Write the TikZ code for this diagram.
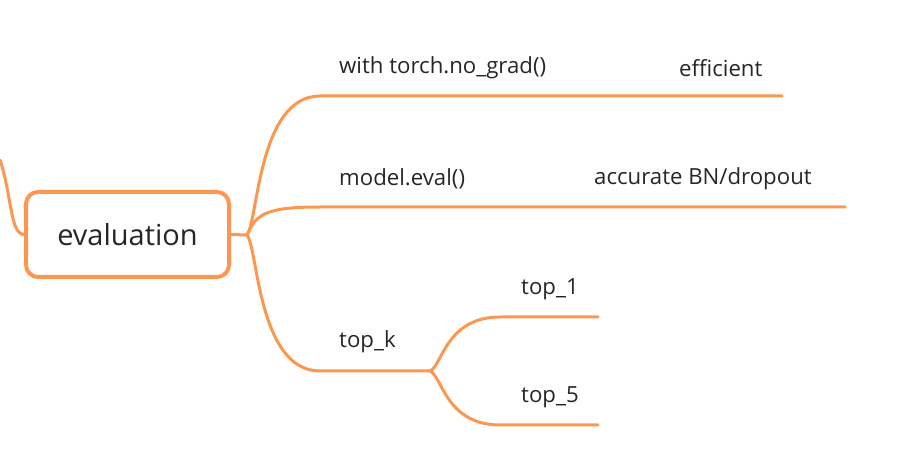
\documentclass[tikz,border=0pt]{standalone}
\usepackage{fontspec}
\setmainfont{Open Sans}
\usetikzlibrary{positioning}
\definecolor{branch}{RGB}{253,151,80}
\definecolor{ink}{RGB}{38,38,38}
\tikzset{
	root/.style={draw=branch, line width=4pt, rounded corners=12pt, minimum width=203pt, minimum height=85pt, text=ink, font=\fontsize{29}{34}\selectfont},
	leaf/.style={text=ink, font=\fontsize{22.2}{26}\selectfont, inner sep=0pt},
	link/.style={draw=branch, line width=3pt, line cap=round},
}

\begin{document}
\begin{tikzpicture}[x=1pt, y=-1pt]
	\useasboundingbox (0,0) rectangle (919,462);
	%% central topic
	\node[root] (eval) at (127.5,234.5) {evaluation};
	\coordinate (up) at (0,160);
	\coordinate (j0) at (247,235);
	% line ends of the branches
	\coordinate (b1) at (572,96);
	\coordinate (b1e) at (782,96);
	\coordinate (b2) at (490,207);
	\coordinate (b2e) at (845,207);
	\coordinate (b3) at (430,371);
	\coordinate (c1) at (598,317);
	\coordinate (c2) at (598,425);
	% labels
	\node[leaf, anchor=west] (grad) at (339,68) {with torch.no\_grad()};
	\node[leaf, anchor=west] (effi) at (679,68) {efficient};
	\node[leaf, anchor=west] (mode) at (339,179) {model.eval()};
	\node[leaf, anchor=west] (accu) at (594,179) {accurate BN/dropout};
	\node[leaf, anchor=west] (topk) at (339,342) {top\_k};
	\node[leaf, anchor=west] (top1) at (521,289) {top\_1};
	\node[leaf, anchor=west] (top5) at (521,397) {top\_5};
	%% connectors
	\draw[link] (up) .. controls (12,196) and (10,234) .. (eval.west);
	\draw[link] (eval.east) -- (j0);
	\draw[link] (j0) .. controls (258,222) and (258,96) .. (320,96) -- (b1) -- (b1e);
	\draw[link] (j0) .. controls (256,214) and (266,207) .. (320,207) -- (b2) -- (b2e);
	\draw[link] (j0) .. controls (258,248) and (258,371) .. (320,371) -- (b3);
	\draw[link] (b3) .. controls (442,366) and (446,317) .. (500,317) -- (c1);
	\draw[link] (b3) .. controls (442,376) and (446,425) .. (500,425) -- (c2);
\end{tikzpicture}
\end{document}
